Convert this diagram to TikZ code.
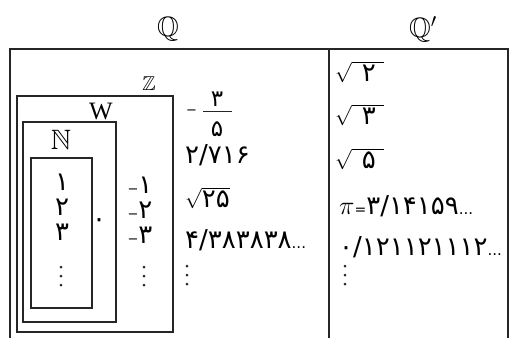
\RequirePackage{fix-cm}
\documentclass[tikz,border=0pt]{standalone}
\usepackage{amssymb}
\usepackage{graphicx}
\usepackage{fontspec}
\setmainfont{Liberation Serif}
\newfontfamily\pfont{DejaVu Sans}
\newcommand{\pd}{\pfont\fontsize{26}{30}\selectfont}
\newcommand{\pdots}{{\pfont\fontsize{15}{17}\selectfont...}}
\newcommand{\pminus}{{\pfont\fontsize{13}{15}\selectfont −}}
\begin{document}
\begin{tikzpicture}[x=1pt,y=-1pt,
  frame/.style={line width=2.2pt, draw=black!85},
  setbox/.style={line width=2.4pt, draw=black!85},
  bb/.style={inner sep=0pt, font=\fontsize{28}{30}\selectfont},
  dig/.style={inner sep=0pt, font=\pd},
  fdig/.style={inner sep=0pt, font=\pfont\fontsize{23}{26}\selectfont},
  row/.style={inner sep=0pt, anchor=west, font=\pd},
  vdot/.style={fill=black!85, draw=none}]
\useasboundingbox (0,0) rectangle (509,338);
% outer frame
\coordinate (fbl) at (10,338);
\coordinate (ftl) at (10,49);
\coordinate (ftr) at (508,49);
\coordinate (fbr) at (508,338);
\coordinate (dt) at (329,49);
\coordinate (db) at (329,338);
\draw[frame] (fbl) -- (ftl) -- (ftr) -- (fbr);
\draw[frame] (dt) -- (db);
% set boxes
\draw[setbox] (17,96) rectangle (173,332);
\draw[setbox, line width=2.1pt] (23,122) rectangle (116,322);
\draw[setbox] (31,158) rectangle (92,308);
% headings
\node[bb] (Q) at (168,29) {$\mathbb{Q}$};
\node[bb] (Qp) at (423,29) {$\mathbb{Q}'$};
\node[inner sep=0pt, font=\fontsize{20}{22}\selectfont] (Z) at (149,84) {$\mathbb{Z}$};
\node[inner sep=0pt, font=\fontsize{25}{27}\selectfont] (W) at (101,111) {W};
\node[bb] (N) at (61,140) {$\mathbb{N}$};
% naturals
\node[dig] (n1) at (62,182) {۱};
\node[dig] (n2) at (62,207) {۲};
\node[dig] (n3) at (62,232) {۳};
\foreach \y in {267,276,285} \fill[vdot] (61,\y) circle (1.5pt);
% zero
\node[dig] (zero) at (99,223) {۰};
% negatives
\node[dig] (m1) at (140,185) {\pminus۱};
\node[dig] (m2) at (140,210) {\pminus۲};
\node[dig] (m3) at (140,235) {\pminus۳};
\foreach \y in {267,276,285} \fill[vdot] (144,\y) circle (1.5pt);
% rationals
\node[inner sep=0pt, anchor=west] (fm) at (186,112) {\pminus};
\node[fdig] (fnum) at (217,99) {۳};
\node[fdig] (fden) at (217,129) {۵};
\coordinate (fbl) at (203,111.5);
\coordinate (fbr) at (232,111.5);
\draw[line width=1.2pt, black!85] (fbl) -- (fbr);
\node[row] (r2) at (185,155) {۲/۷۱۶};
\node[row, font=\fontsize{20}{22}\selectfont] (r3) at (185,198) {$\sqrt{\hbox{\pd ۲۵}}$};
\node[row] (r4) at (185,240) {۴/۳۸۳۸۳۸\pdots};
\foreach \y in {266,275,284} \fill[vdot] (187,\y) circle (1.5pt);
% irrationals
\node[row, font=\fontsize{20}{22}\selectfont] (i1) at (335,72) {$\sqrt{\hspace{10pt}\hbox{\pd ۲}\hspace{8pt}}$};
\node[row, font=\fontsize{20}{22}\selectfont] (i2) at (335,115) {$\sqrt{\hspace{10pt}\hbox{\pd ۳}\hspace{8pt}}$};
\node[row, font=\fontsize{20}{22}\selectfont] (i3) at (335,159) {$\sqrt{\hspace{10pt}\hbox{\pd ۵}\hspace{8pt}}$};
\node[row] (i4) at (339,206) {{\fontsize{26}{28}\selectfont$\pi$}{\fontsize{14}{16}\selectfont=}۳/۱۴۱۵۹\pdots};
\node[row] (i5) at (339,247) {۰/۱۲۱۱۲۱۱۱۲\pdots};
\foreach \y in {266,275,284} \fill[vdot] (345,\y) circle (1.5pt);
\end{tikzpicture}
\end{document}
